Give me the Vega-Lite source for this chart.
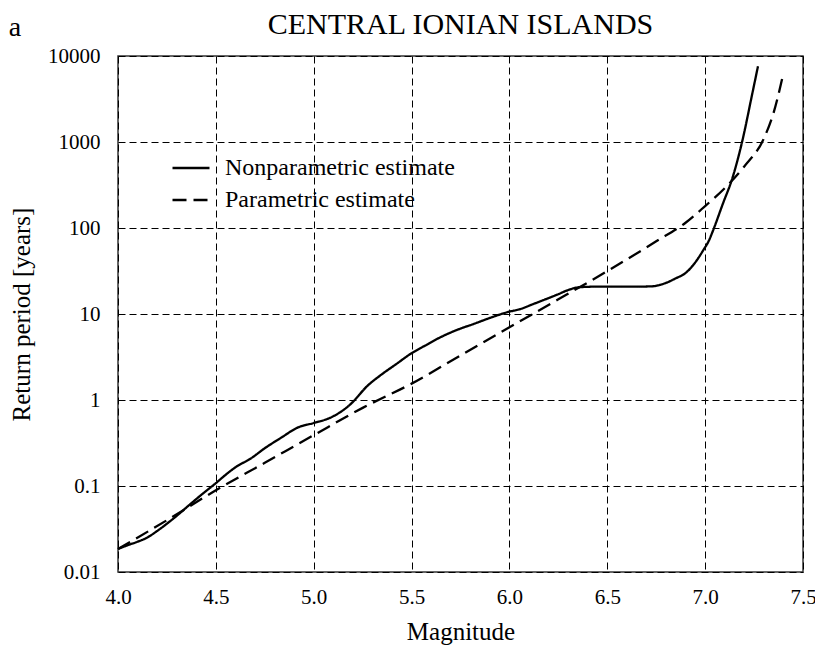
{
  "$schema": "https://vega.github.io/schema/vega-lite/v6.json",
  "background": "white",
  "padding": {"left": 8, "top": 9, "right": 10, "bottom": 5},
  "title": {
    "text": "a",
    "anchor": "start",
    "frame": "bounds",
    "font": "Liberation Serif",
    "fontSize": 28,
    "fontWeight": "normal",
    "color": "black",
    "baseline": "alphabetic",
    "offset": 0,
    "dy": 55
  },
  "config": {
    "view": {"stroke": "#333333", "strokeWidth": 1.5},
    "axis": {
      "labelFont": "Liberation Serif",
      "titleFont": "Liberation Serif",
      "labelFontSize": 21,
      "titleFontSize": 25,
      "titleFontWeight": "normal",
      "labelColor": "black",
      "titleColor": "black",
      "labelFlush": false,
      "grid": true,
      "gridColor": "black",
      "gridDash": [7, 4],
      "gridWidth": 1,
      "gridOpacity": 1,
      "domain": false,
      "ticks": false,
      "tickSize": 0
    }
  },
  "vconcat": [
    {
      "title": {
        "text": "CENTRAL IONIAN ISLANDS",
        "anchor": "middle",
        "font": "Liberation Serif",
        "fontSize": 30,
        "fontWeight": "normal",
        "color": "black",
        "baseline": "alphabetic",
        "offset": -19
      },
      "width": 685,
      "height": 516,
      "data": {
        "values": [
          {"est": "Nonparametric estimate", "m": 4.00, "T": 0.0185},
          {"est": "Nonparametric estimate", "m": 4.05, "T": 0.0205},
          {"est": "Nonparametric estimate", "m": 4.10, "T": 0.0225},
          {"est": "Nonparametric estimate", "m": 4.15, "T": 0.0252},
          {"est": "Nonparametric estimate", "m": 4.20, "T": 0.030},
          {"est": "Nonparametric estimate", "m": 4.26, "T": 0.038},
          {"est": "Nonparametric estimate", "m": 4.30, "T": 0.045},
          {"est": "Nonparametric estimate", "m": 4.36, "T": 0.059},
          {"est": "Nonparametric estimate", "m": 4.42, "T": 0.077},
          {"est": "Nonparametric estimate", "m": 4.50, "T": 0.108},
          {"est": "Nonparametric estimate", "m": 4.55, "T": 0.135},
          {"est": "Nonparametric estimate", "m": 4.60, "T": 0.165},
          {"est": "Nonparametric estimate", "m": 4.68, "T": 0.21},
          {"est": "Nonparametric estimate", "m": 4.75, "T": 0.275},
          {"est": "Nonparametric estimate", "m": 4.83, "T": 0.36},
          {"est": "Nonparametric estimate", "m": 4.92, "T": 0.48},
          {"est": "Nonparametric estimate", "m": 5.00, "T": 0.54},
          {"est": "Nonparametric estimate", "m": 5.09, "T": 0.63},
          {"est": "Nonparametric estimate", "m": 5.18, "T": 0.86},
          {"est": "Nonparametric estimate", "m": 5.28, "T": 1.5},
          {"est": "Nonparametric estimate", "m": 5.34, "T": 1.93},
          {"est": "Nonparametric estimate", "m": 5.42, "T": 2.6},
          {"est": "Nonparametric estimate", "m": 5.50, "T": 3.5},
          {"est": "Nonparametric estimate", "m": 5.57, "T": 4.3},
          {"est": "Nonparametric estimate", "m": 5.65, "T": 5.4},
          {"est": "Nonparametric estimate", "m": 5.73, "T": 6.5},
          {"est": "Nonparametric estimate", "m": 5.82, "T": 7.7},
          {"est": "Nonparametric estimate", "m": 5.90, "T": 9.0},
          {"est": "Nonparametric estimate", "m": 5.99, "T": 10.5},
          {"est": "Nonparametric estimate", "m": 6.06, "T": 11.5},
          {"est": "Nonparametric estimate", "m": 6.12, "T": 13.0},
          {"est": "Nonparametric estimate", "m": 6.19, "T": 15.0},
          {"est": "Nonparametric estimate", "m": 6.25, "T": 17.0},
          {"est": "Nonparametric estimate", "m": 6.30, "T": 19.0},
          {"est": "Nonparametric estimate", "m": 6.36, "T": 20.5},
          {"est": "Nonparametric estimate", "m": 6.45, "T": 20.8},
          {"est": "Nonparametric estimate", "m": 6.55, "T": 20.8},
          {"est": "Nonparametric estimate", "m": 6.65, "T": 20.8},
          {"est": "Nonparametric estimate", "m": 6.73, "T": 21.0},
          {"est": "Nonparametric estimate", "m": 6.80, "T": 23.0},
          {"est": "Nonparametric estimate", "m": 6.85, "T": 26.0},
          {"est": "Nonparametric estimate", "m": 6.90, "T": 30.0},
          {"est": "Nonparametric estimate", "m": 6.93, "T": 35},
          {"est": "Nonparametric estimate", "m": 6.96, "T": 43},
          {"est": "Nonparametric estimate", "m": 6.99, "T": 55},
          {"est": "Nonparametric estimate", "m": 7.02, "T": 72},
          {"est": "Nonparametric estimate", "m": 7.04, "T": 93},
          {"est": "Nonparametric estimate", "m": 7.09, "T": 190},
          {"est": "Nonparametric estimate", "m": 7.14, "T": 385},
          {"est": "Nonparametric estimate", "m": 7.19, "T": 1030},
          {"est": "Nonparametric estimate", "m": 7.24, "T": 3570},
          {"est": "Nonparametric estimate", "m": 7.27, "T": 7600},
          {"est": "Parametric estimate", "m": 4.00, "T": 0.0185},
          {"est": "Parametric estimate", "m": 4.25, "T": 0.040},
          {"est": "Parametric estimate", "m": 4.50, "T": 0.089},
          {"est": "Parametric estimate", "m": 4.75, "T": 0.186},
          {"est": "Parametric estimate", "m": 5.00, "T": 0.39},
          {"est": "Parametric estimate", "m": 5.25, "T": 0.81},
          {"est": "Parametric estimate", "m": 5.50, "T": 1.55},
          {"est": "Parametric estimate", "m": 5.75, "T": 3.3},
          {"est": "Parametric estimate", "m": 6.00, "T": 7.0},
          {"est": "Parametric estimate", "m": 6.25, "T": 14.8},
          {"est": "Parametric estimate", "m": 6.50, "T": 31.5},
          {"est": "Parametric estimate", "m": 6.75, "T": 70},
          {"est": "Parametric estimate", "m": 6.90, "T": 115},
          {"est": "Parametric estimate", "m": 7.00, "T": 180},
          {"est": "Parametric estimate", "m": 7.10, "T": 290},
          {"est": "Parametric estimate", "m": 7.20, "T": 520},
          {"est": "Parametric estimate", "m": 7.30, "T": 1100},
          {"est": "Parametric estimate", "m": 7.35, "T": 2200},
          {"est": "Parametric estimate", "m": 7.40, "T": 6300}
        ]
      },
      "mark": {"type": "line", "color": "black", "strokeWidth": 2.3, "interpolate": "monotone"},
      "encoding": {
        "x": {
          "field": "m",
          "type": "quantitative",
          "title": "Magnitude",
          "scale": {"domain": [4, 7.5], "nice": false, "zero": false},
          "axis": {
            "values": [4, 4.5, 5, 5.5, 6, 6.5, 7, 7.5],
            "format": ".1f",
            "labelPadding": 14,
            "titlePadding": 12
          }
        },
        "y": {
          "field": "T",
          "type": "quantitative",
          "title": "Return period [years]",
          "scale": {"type": "log", "domain": [0.01, 10000], "nice": false},
          "axis": {
            "values": [0.01, 0.1, 1, 10, 100, 1000, 10000],
            "format": "~g",
            "labelPadding": 18,
            "titlePadding": 13
          }
        },
        "strokeDash": {
          "field": "est",
          "type": "nominal",
          "scale": {
            "domain": ["Nonparametric estimate", "Parametric estimate"],
            "range": [[1, 0], [14, 7]]
          },
          "legend": {
            "title": null,
            "orient": "none",
            "legendX": 53,
            "legendY": 92,
            "symbolType": "stroke",
            "symbolSize": 1369,
            "symbolStrokeWidth": 2.3,
            "symbolStrokeColor": "black",
            "labelFont": "Liberation Serif",
            "labelFontSize": 24,
            "labelColor": "black",
            "labelOffset": 14,
            "labelLimit": 0,
            "rowPadding": -1
          }
        }
      }
    }
  ]
}
